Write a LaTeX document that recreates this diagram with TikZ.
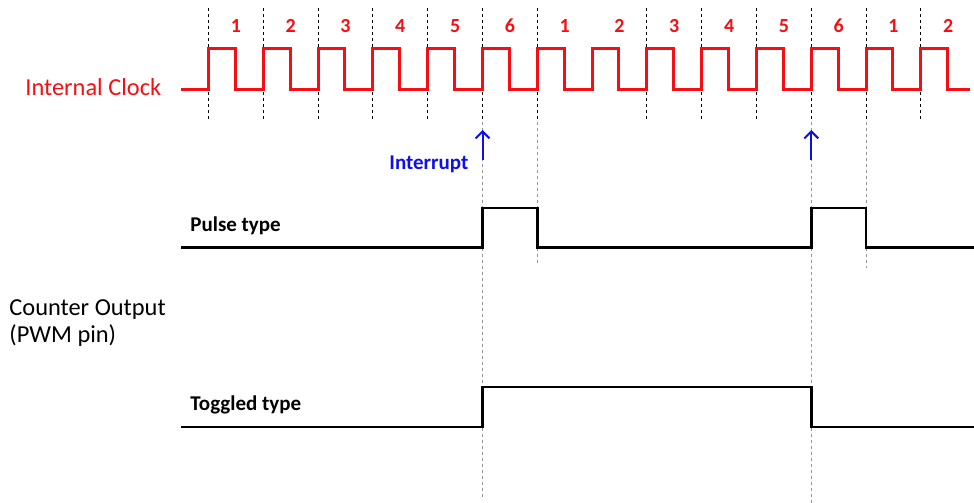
\documentclass[tikz,border=0pt]{standalone}
\usepackage{fontspec}
\setmainfont{Carlito}
\usetikzlibrary{arrows.meta,positioning,calc}
\definecolor{clkred}{RGB}{245,15,20}
\definecolor{irqblue}{RGB}{15,15,235}
\definecolor{guidegray}{RGB}{150,150,150}

\begin{document}
\begin{tikzpicture}[x=0.5pt,y=-0.5pt,
    tick/.style={black,line width=0.5pt,dash pattern=on 1.5pt off 1.5pt},
    guide/.style={guidegray,line width=0.5pt,dash pattern=on 1.5pt off 1.5pt},
    wave/.style={black,line width=1.25pt,line join=miter},
    numlbl/.style={text=clkred,font=\fontsize{10}{12}\selectfont\bfseries,anchor=base,inner sep=0pt},
    biglbl/.style={font=\fontsize{12.2}{14}\selectfont,anchor=base west,inner sep=0pt},
    typelbl/.style={font=\fontsize{10.5}{12}\selectfont\bfseries,anchor=base west,inner sep=0pt},
    irqarrow/.style={irqblue,line width=1pt,-{Straight Barb[length=3.5pt,width=7pt]}}]
  \useasboundingbox (0,0) rectangle (974,503);
  \def\xo{208.5}
  \def\per{54.8}

  % Dashed ticks on the clock edges
  \foreach \k in {0,1,2,3,4,5,6,8,9,10,11,12,13} {
    \draw[tick] (\xo+\k*\per,8) -- (\xo+\k*\per,122);
  }
  \draw[guide] (\xo+5*\per,122) -- (\xo+5*\per,497);
  \draw[guide] (\xo+6*\per,122) -- (\xo+6*\per,265);
  \draw[guide] (\xo+11*\per,122) -- (\xo+11*\per,503);
  \draw[guide] (\xo+12*\per,122) -- (\xo+12*\per,268);

  % Internal clock
  \draw[clkred,line width=1.5pt,line join=miter] (181,89)
    \foreach \k in {0,...,13} {
      -- (\xo+\k*\per,89) -- (\xo+\k*\per,48) -- (\xo+\k*\per+26.8,48) -- (\xo+\k*\per+26.8,89)
    } -- (970,89);
  \foreach \k in {0,...,13} {
    \pgfmathtruncatemacro\n{mod(\k,6)+1}
    \node[numlbl] (num\k) at (\xo+\k*\per+0.5*\per,32.3) {\n};
  }
  \node[biglbl,text=clkred] (clklbl) at (25,95.7) {Internal Clock};

  % Interrupts
  \coordinate (irqAfoot) at (\xo+5*\per,160);
  \coordinate (irqAtip) at (\xo+5*\per,130);
  \coordinate (irqBfoot) at (\xo+11*\per,160);
  \coordinate (irqBtip) at (\xo+11*\per,130);
  \draw[irqarrow] (irqAfoot) -- (irqAtip);
  \draw[irqarrow] (irqBfoot) -- (irqBtip);
  \node[typelbl,text=irqblue] (irqlbl) at (389,169.3) {Interrupt};

  % Counter output
  \node[biglbl] (outlbl) at (9,315) {Counter Output};
  \node[biglbl] (pinlbl) at (9,342.5) {(PWM pin)};

  % Pulse type
  \node[typelbl] (pulselbl) at (190,231) {Pulse type};
  \draw[wave] (181,247.5) -- (\xo+5*\per,247.5) -- (\xo+5*\per,208) -- (\xo+6*\per,208)
    -- (\xo+6*\per,247.5) -- (\xo+11*\per,247.5) -- (\xo+11*\per,208) -- (\xo+12*\per,208)
    -- (\xo+12*\per,247.5) -- (974,247.5);

  % Toggled type
  \node[typelbl] (togglelbl) at (190,410) {Toggled type};
  \draw[wave] (181,427) -- (\xo+5*\per,427) -- (\xo+5*\per,387) -- (\xo+11*\per,387)
    -- (\xo+11*\per,427) -- (974,427);
\end{tikzpicture}
\end{document}
